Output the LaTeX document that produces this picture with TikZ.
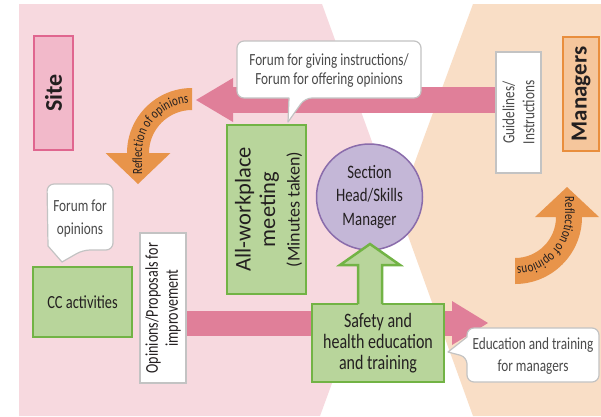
\documentclass[tikz,border=0pt]{standalone}
\usepackage{fontspec}
\setmainfont{Carlito}
\newfontfamily\cond[FakeStretch=0.78]{Carlito}
\usetikzlibrary{arrows.meta,decorations.text}
\definecolor{bgpink}{HTML}{F7D9DF}
\definecolor{bgpeach}{HTML}{F9DEC6}
\definecolor{arrowpink}{HTML}{E07F99}
\definecolor{sitefill}{HTML}{F2B9CA}
\definecolor{siteborder}{HTML}{E0668F}
\definecolor{mgrfill}{HTML}{F5C69C}
\definecolor{mgrborder}{HTML}{E98E3D}
\definecolor{greenfill}{HTML}{B8D59B}
\definecolor{greenborder}{HTML}{72B345}
\definecolor{purplefill}{HTML}{C4B7D7}
\definecolor{purpleborder}{HTML}{8A6CAB}
\definecolor{orangearrow}{HTML}{E8944A}
\definecolor{bubbleborder}{HTML}{C3C3C3}
\definecolor{textdark}{HTML}{231F20}
\definecolor{textgray}{HTML}{4A4A4A}
\pgfdeclarelayer{back}
\pgfdeclarelayer{arrowlayer}
\pgfsetlayers{back,arrowlayer,main}
\tikzset{
  plainbox/.style={draw=bubbleborder, fill=white, line width=1.2pt, inner sep=0pt, text=textgray},
  greenbox/.style={draw=greenborder, fill=greenfill, line width=2.5pt, inner sep=0pt, text=textdark},
  bubble/.style={draw=bubbleborder, fill=white, line width=1.2pt, line join=round},
  bubbletext/.style={inner sep=0pt, align=center, text=textgray, font=\cond\fontsize{17}{20}\selectfont},
  pinkshaft/.style={draw=arrowpink, line width=#1},
  orangeshape/.style={fill=orangearrow},
  arctext/.style={decorate, decoration={text along path, text={|\cond\fontsize{14}{14}\selectfont|Reflection of opinions}, text align=center, text color=textdark}}
}
\begin{document}
\begin{tikzpicture}[x=1pt,y=1pt]
\useasboundingbox (0,0) rectangle (601,-416);
\begin{pgfonlayer}{back}
\fill[white] (0,0) rectangle (601,-416);
\fill[bgpink] (19,-4) -- (322,-4) -- (396,-208) -- (320,-416) -- (19,-416) -- cycle;
\fill[bgpeach] (473,-4) -- (601,-4) -- (601,-416) -- (473,-416) -- (398,-208) -- cycle;
\end{pgfonlayer}

% side labels
\node[draw=siteborder, fill=sitefill, line width=1.5pt, rotate=90, minimum width=114pt, minimum height=39pt, inner sep=0pt, text=textdark, font=\bfseries\fontsize{24}{24}\selectfont] (site) at (53.5,-93) {Site};
\node[draw=mgrborder, fill=mgrfill, line width=1.5pt, rotate=90, minimum width=114pt, minimum height=36pt, inner sep=0pt, text=textdark, font=\bfseries\fontsize{23}{23}\selectfont] (mgr) at (581,-94) {Managers};

% label boxes
\node[plainbox, rotate=90, minimum width=121pt, minimum height=45pt, align=center, font=\cond\fontsize{17}{20}\selectfont] (gl) at (518.5,-112.5) {Guidelines/\\Instructions};
\node[plainbox, rotate=90, minimum width=150pt, minimum height=46pt, align=center, text=textdark, font=\cond\fontsize{18}{20}\selectfont] (op) at (163,-308) {Opinions/Proposals for\\improvement};

% green boxes
\node[greenbox, rotate=90, minimum width=169pt, minimum height=79pt] (awm) at (266.5,-209.5) {};
\node[rotate=90, inner sep=0pt, align=center, text=textdark, font=\fontsize{22.5}{24.5}\selectfont] (awmtext) at (268.5,-209.5) {All-workplace\\meeting\\{\fontsize{18}{20}\selectfont(Minutes taken)}};
\node[greenbox, minimum width=99pt, minimum height=70pt, font=\cond\fontsize{18.5}{20}\selectfont] (cc) at (82.5,-302) {CC activities};
\node[draw=purpleborder, fill=purplefill, line width=1.5pt, circle, minimum size=106pt, inner sep=0pt, align=center, text=textdark, font=\cond\fontsize{19}{23.5}\selectfont] (shm) at (369.5,-197) {Section\\Head/Skills\\Manager};
\node[greenbox, minimum width=132pt, minimum height=78pt, align=center, font=\cond\fontsize{20.5}{21}\selectfont] (sf) at (378,-343) {Safety and\\health education\\and training};

% arrows
\coordinate (tipA) at (196,-100);
\coordinate (tipB) at (488,-323);
\coordinate (tipC) at (370,-244);
\begin{pgfonlayer}{arrowlayer}
\draw[pinkshaft=26pt, -{Triangle[length=37pt,width=44pt,line width=0pt]}] (gl.center |- tipA) -- (tipA);
\draw[pinkshaft=25pt, -{Triangle[length=36pt,width=44pt,line width=0pt]}] (op.center |- tipB) -- (tipB);
% orange curved arrows
\fill[orangeshape] (192,-88) arc[start angle=90, end angle=180, radius=65pt] -- (105.5,-153) -- (138,-184) -- (170.5,-153) -- (149,-153) arc[start angle=180, end angle=90, radius=43pt] -- cycle;
\path[arctext] (142,-178) -- (142,-153) arc[start angle=180, end angle=90, radius=50pt];
\fill[orangeshape] (515,-284) arc[start angle=270, end angle=360, radius=67pt] -- (599,-217) -- (567,-187) -- (535,-217) -- (556,-217) arc[start angle=360, end angle=270, radius=41pt] -- cycle;
\path[arctext] (565,-195) -- (565,-217) arc[start angle=0, end angle=-90, radius=50pt];
\end{pgfonlayer}

% green up arrow from safety box to circle
\fill[greenfill] (358,-306) -- (358,-265) -- (340,-265) -- (tipC) -- (400,-265) -- (382,-265) -- (382,-306) -- cycle;
\draw[greenborder, line width=2.5pt, line join=miter] (358,-304) -- (358,-265) -- (340,-265) -- (tipC) -- (400,-265) -- (382,-265) -- (382,-304);

% speech bubbles
\draw[bubble, rounded corners=7pt] (330,-41) -- (421,-41) -- (421,-98) -- (305,-98) [sharp corners] -- (288,-122) -- (289,-98) [rounded corners=7pt] -- (237,-98) -- (237,-41) -- cycle;
\node[bubbletext, font=\cond\fontsize{17}{19}\selectfont] (b1) at (329,-70.5) {Forum for giving instructions/\\Forum for offering opinions};

\draw[bubble, rounded corners=7pt] (80,-184) -- (113,-184) -- (113,-250) -- (83,-250) [sharp corners] -- (62,-262) -- (48,-246) [rounded corners=7pt] -- (47,-184) -- cycle;
\node[bubbletext, font=\cond\fontsize{17}{23}\selectfont] (b2) at (80,-218.5) {Forum for\\opinions};

\draw[bubble, rounded corners=7pt] (533,-328) -- (599,-328) -- (599,-382) -- (467,-382) -- (467,-357) [sharp corners] -- (448,-352) -- (467,-337) [rounded corners=7pt] -- (467,-328) -- cycle;
\node[bubbletext, font=\cond\fontsize{17}{22}\selectfont] (b3) at (533,-356) {Education and training\\for managers};
\end{tikzpicture}
\end{document}
